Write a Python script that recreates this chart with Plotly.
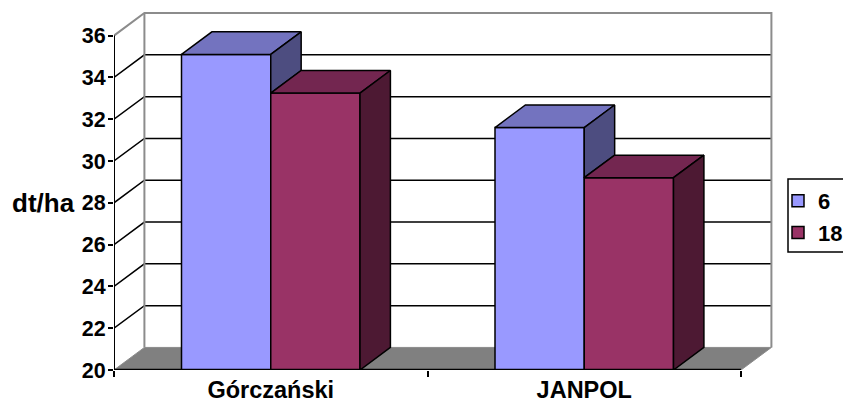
import plotly.graph_objects as go

# Chart data
categories = ["Górczański", "JANPOL"]
series_names = ["6", "18"]
values_6 = [35.1, 31.6]
values_18 = [33.25, 29.2]
y_ticks = list(range(20, 37, 2))

# Palette per series: front, top and side faces of the blocks
FRONT = ["#9999FF", "#993366"]
TOP = ["#7373BF", "#732650"]
SIDE = ["#4D4D80", "#4D1933"]
FLOOR = "#808080"
WALL_EDGE = "#8C8C8C"

# Oblique projection offsets, in axis units
DX = 0.097
DY = 1.08
X0, X1 = -0.5, 1.5
BAR_W = 0.2847
Y_BASE = 20
Y_TOP = 36

W, H = 843, 403
L, R, T, B = 114, 68, 10, 33
X_SPAN = (W - L - R) / 313.5
Y_SPAN = (H - T - B) / 20.9

fig = go.Figure()


def line_shape(xs, ys, color, width):
    path = "M" + " L".join(f"{x},{y}" for x, y in zip(xs, ys))
    fig.add_shape(type="path", path=path, xref="x", yref="y", layer="below",
                  line=dict(color=color, width=width))


# Floor
floor_path = (f"M{X0},{Y_BASE} L{X1},{Y_BASE} L{X1 + DX},{Y_BASE + DY} "
              f"L{X0 + DX},{Y_BASE + DY} Z")
fig.add_shape(type="path", path=floor_path, xref="x", yref="y", layer="below",
              fillcolor=FLOOR, line=dict(color=WALL_EDGE, width=1))

# Gridlines running along the side wall and the back wall
for v in y_ticks[1:-1]:
    line_shape([X0, X0 + DX, X1 + DX], [v, v + DY, v + DY], "black", 1.5)

# Wall outline
line_shape([X0, X0 + DX, X1 + DX, X1 + DX],
           [Y_TOP, Y_TOP + DY, Y_TOP + DY, Y_BASE + DY], WALL_EDGE, 2)
line_shape([X0 + DX, X0 + DX], [Y_BASE + DY, Y_TOP + DY], WALL_EDGE, 2)

# Front faces
series_values = [values_6, values_18]
for s, name in enumerate(series_names):
    fig.add_trace(go.Bar(
        x=[0, 1], y=series_values[s], name=f"<b>{name}</b>", legendgroup=name,
        marker=dict(color=FRONT[s], line=dict(color="black", width=1.5)),
        hoverinfo="skip",
    ))


def face(xs, ys, color):
    fig.add_trace(go.Scatter(
        x=xs, y=ys, mode="lines", fill="toself", fillcolor=color,
        line=dict(color="black", width=1.5), showlegend=False, hoverinfo="skip",
    ))


# Top and side faces; the side of the first block stops where the next one begins
for c in range(len(categories)):
    for s in range(len(series_names)):
        left = c - BAR_W + s * BAR_W
        right = left + BAR_W
        v = series_values[s][c]
        face([left, right, right + DX, left + DX, left],
             [v, v, v + DY, v + DY, v], TOP[s])
        low = series_values[s + 1][c] if s + 1 < len(series_names) else Y_BASE
        face([right, right + DX, right + DX, right, right],
             [v, v + DY, low + DY, low, v], SIDE[s])

# Front axis lines
fig.add_trace(go.Scatter(x=[X0, X0], y=[Y_BASE, Y_TOP], mode="lines", cliponaxis=False,
                         line=dict(color="black", width=2), showlegend=False, hoverinfo="skip"))
fig.add_trace(go.Scatter(x=[X0, X1], y=[Y_BASE, Y_BASE], mode="lines", cliponaxis=False,
                         line=dict(color="black", width=2.5), showlegend=False, hoverinfo="skip"))

# Legend frame
fig.add_shape(type="rect", xref="paper", yref="paper",
              x0=(788 - L) / (W - L - R), x1=(860 - L) / (W - L - R),
              y0=(H - B - 252) / (H - T - B), y1=(H - B - 179) / (H - T - B),
              line=dict(color="black", width=1.5), layer="above")

fig.add_annotation(text="<b>dt/ha</b>", xref="paper", yref="paper",
                   x=(43 - L) / (W - L - R), y=(H - B - 203) / (H - T - B),
                   xanchor="center", yanchor="middle",
                   showarrow=False, font=dict(size=26, color="black"))

fig.update_layout(
    width=W, height=H,
    margin=dict(l=L, r=R, t=T, b=B, pad=0, autoexpand=False),
    paper_bgcolor="white", plot_bgcolor="white",
    barmode="group", bargap=1 - 2 * BAR_W, bargroupgap=0,
    font=dict(family="Liberation Sans", color="black"),
    xaxis=dict(
        range=[X0, X0 + X_SPAN], tickmode="array", tickvals=[0, 1],
        ticktext=[f"<b>{c}</b>" for c in categories],
        tickfont=dict(size=23.5), ticks="", ticklabelstandoff=3,
        minor=dict(ticks="outside", tickmode="array", tickvals=[-0.5, 0.5, 1.5],
                   ticklen=6, tickwidth=1.5, tickcolor="black", showgrid=False),
        showgrid=False, zeroline=False, showline=False,
    ),
    yaxis=dict(
        range=[Y_BASE, Y_BASE + Y_SPAN], tickmode="array", tickvals=y_ticks,
        ticktext=[f"<b>{v}</b>" for v in y_ticks],
        tickfont=dict(size=21.5), ticks="outside", ticklen=5, tickwidth=1.5,
        tickcolor="black", ticklabelstandoff=-2, showgrid=False, zeroline=False,
        showline=False,
    ),
    legend=dict(
        x=(778 - L) / (W - L - R), y=(H - B - 180) / (H - T - B),
        xanchor="left", yanchor="top", traceorder="normal",
        font=dict(size=22), tracegroupgap=15, bgcolor="rgba(0,0,0,0)",
    ),
)

fig.write_html("out.html")
